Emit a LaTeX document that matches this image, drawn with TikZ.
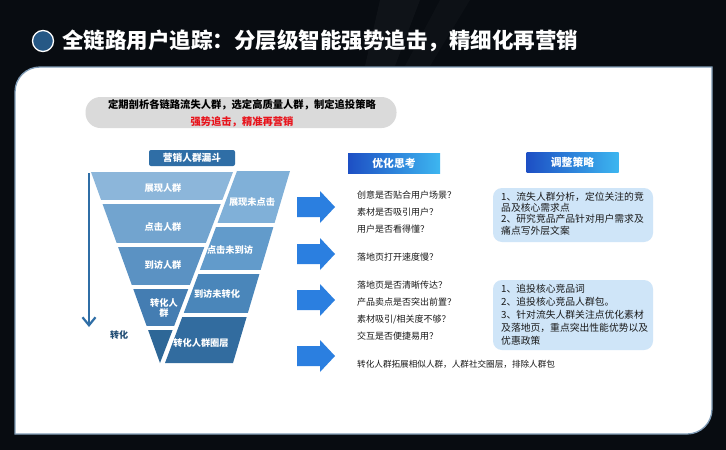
\documentclass[tikz,border=0pt]{standalone}
\usepackage{fontspec}
\setmainfont{Noto Sans CJK SC}
\usetikzlibrary{arrows.meta}
\definecolor{bgdark}{HTML}{080C11}
\definecolor{panelline}{HTML}{7F9BB5}
\definecolor{arrowblue}{HTML}{2B7FE0}
\definecolor{fundark}{HTML}{2F6EA6}
\definecolor{fa}{HTML}{8CB6DA}
\definecolor{fb}{HTML}{72A4CF}
\definecolor{fc}{HTML}{5B92C3}
\definecolor{fd}{HTML}{447DB2}
\definecolor{fe}{HTML}{2E6797}
\definecolor{sa}{HTML}{80B0D8}
\definecolor{sb}{HTML}{629BCB}
\definecolor{sc}{HTML}{4A86BA}
\definecolor{sd}{HTML}{326C9F}
\definecolor{boxfill}{HTML}{CFE5F8}
\definecolor{bannergray}{HTML}{DADADA}
\definecolor{hdleft}{HTML}{1D4FC4}
\definecolor{hdright}{HTML}{3DB6F0}
\definecolor{txt}{HTML}{1A1A1A}
\definecolor{redtxt}{HTML}{E8141C}
\tikzset{
  funtxt/.style={text=white,font=\fontsize{9.2}{11}\selectfont\bfseries,inner sep=0,align=center},
  qtxt/.style={text=txt,font=\fontsize{9}{11}\selectfont,inner sep=0,anchor=west},
  blockarrow/.style={fill=arrowblue,draw=none},
  header/.style={left color=hdleft,right color=hdright,draw=none,minimum width=92pt,minimum height=20pt,inner sep=0,text=white,font=\fontsize{10.8}{12}\selectfont\bfseries},
  stratbox/.style={fill=boxfill,draw=none,rounded corners=9pt},
  strattxt/.style={text=txt,font=\fontsize{9.8}{11.2}\selectfont,inner sep=0,align=left,anchor=north west}
}
\begin{document}
\begin{tikzpicture}[x=1pt,y=-1pt]
\useasboundingbox (0,0) rectangle (726,450);
% background
\fill[bgdark] (0,0) rectangle (726,450);
\fill[white,opacity=0.03] (380,0) -- (420,0) -- (395,66) -- (365,66) -- cycle;
\fill[white,opacity=0.025] (440,0) -- (470,0) -- (430,66) -- (405,66) -- cycle;
% title
\node[circle,fill=fundark!80!black,draw=white,line width=1.3pt,minimum size=21pt,inner sep=0] (dot) at (43,41) {};
\node[anchor=west,text=white,font=\fontsize{21.5}{24}\selectfont\bfseries,inner sep=0] (title) at (62,41) {全链路用户追踪：分层级智能强势追击，精细化再营销};
% panel
\draw[fill=white,draw=panelline,line width=1.3pt] (15,92) .. controls (15,78) and (26,67) .. (40,67) -- (712,67) -- (712,409) .. controls (712,423) and (701,434) .. (687,434) -- (15,434) -- cycle;
% banner
\node[fill=bannergray,rounded corners=15pt,minimum width=311pt,minimum height=31pt,inner sep=0] (banner) at (241,112.5) {};
\node[text=black,font=\fontsize{10.3}{12}\selectfont\bfseries,inner sep=0] (bannerl1) at (242,105) {定期剖析各链路流失人群，选定高质量人群，制定追投策略};
\node[text=redtxt,font=\fontsize{10.3}{12}\selectfont\bfseries,inner sep=0] (bannerl2) at (242,122) {强势追击，精准再营销};
% funnel title
\node[fill=fundark,rounded corners=2pt,minimum width=86pt,minimum height=16pt,inner sep=0,text=white,font=\fontsize{9.7}{11}\selectfont\bfseries] (funtitle) at (192,158) {营销人群漏斗};
% funnel left triangle
\begin{scope}
\clip (91,172) -- (233,172) -- (160,363) -- cycle;
\fill[fa] (80,172) rectangle (240,200);
\fill[fb] (80,204) rectangle (240,243);
\fill[fc] (80,247) rectangle (240,285);
\fill[fd] (80,289) rectangle (240,326);
\fill[fe] (80,330) rectangle (240,364);
\end{scope}
% funnel right strip
\begin{scope}
\clip (237,171) -- (290,171) -- (233,363) -- (165,363) -- cycle;
\fill[sa] (160,171) rectangle (295,223);
\fill[sb] (160,227) rectangle (295,270);
\fill[sc] (160,274) rectangle (295,313);
\fill[sd] (160,317) rectangle (295,364);
\end{scope}
\node[funtxt] (r1) at (163,188) {展现人群};
\node[funtxt] (r2) at (163,227) {点击人群};
\node[funtxt] (r3) at (163,265) {到访人群};
\node[funtxt] (r4) at (164,308) {转化人\\[-1pt]群};
\node[funtxt] (s1) at (252,202) {展现未点击};
\node[funtxt] (s2) at (230,250) {点击未到访};
\node[funtxt] (s3) at (217,294) {到访未转化};
\node[funtxt] (s4) at (201,343) {转化人群圈层};
% conversion arrow
\coordinate (ctop) at (89,173);
\coordinate (cbot) at (89,327);
\draw[fundark,line width=2.2pt,-{Straight Barb[length=8pt,width=13pt,line width=2.2pt]}] (ctop) -- (cbot);
\node[text=fundark!70!black,font=\fontsize{9}{11}\selectfont\bfseries,inner sep=0] (conv) at (119,335) {转化};
% block arrows
\foreach \cy in {207,254,300,356}{
  \fill[blockarrow] (297,\cy-10) -- (320,\cy-10) -- (320,\cy-16) -- (335,\cy) -- (320,\cy+16) -- (320,\cy+10) -- (297,\cy+10) -- cycle;
}
% headers
\node[header] (h1) at (394,163) {优化思考};
\node[header] (h2) at (572.5,162) {调整策略};
% questions
\node[qtxt] (q1) at (357,195) {创意是否贴合用户场景？};
\node[qtxt] (q2) at (357,212) {素材是否吸引用户？};
\node[qtxt] (q3) at (357,229) {用户是否看得懂？};
\node[qtxt] (q4) at (357,257) {落地页打开速度慢？};
\node[qtxt] (q5) at (357,285) {落地页是否清晰传达？};
\node[qtxt] (q6) at (357,302) {产品卖点是否突出前置？};
\node[qtxt] (q7) at (357,319) {素材吸引/相关度不够？};
\node[qtxt] (q8) at (357,336) {交互是否便捷易用？};
\node[qtxt,font=\fontsize{8.6}{10}\selectfont] (q9) at (357,364) {转化人群拓展相似人群，人群社交圈层，排除人群包};
% strategy boxes
\node[stratbox,minimum width=160pt,minimum height=54pt,inner sep=0] (b1) at (573,215) {};
\node[strattxt,text width=152pt] (b1t) at (501,192) {1、流失人群分析，定位关注的竞\\品及核心需求点\\2、研究竞品产品针对用户需求及\\痛点写外层文案};
\node[stratbox,minimum width=160pt,minimum height=70pt,inner sep=0] (b2) at (573,315) {};
\node[strattxt,text width=152pt,font=\fontsize{9.8}{13}\selectfont] (b2t) at (501,284) {1、追投核心竞品词\\2、追投核心竞品人群包。\\3、针对流失人群关注点优化素材\\及落地页，重点突出性能优势以及\\优惠政策};
\end{tikzpicture}
\end{document}
